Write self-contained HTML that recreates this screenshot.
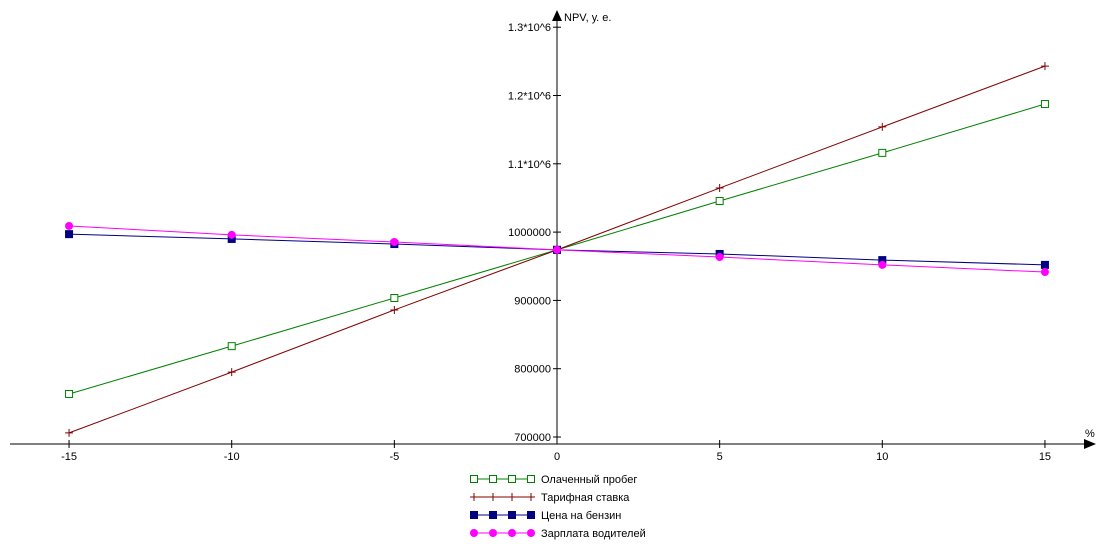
<!DOCTYPE html>
<html><head><meta charset="utf-8"><style>
body{margin:0;background:#fff;}
svg text{font-family:"Liberation Sans","DejaVu Sans",sans-serif;font-size:11px;fill:#000;}
</style></head><body>
<svg id="chart" width="1116" height="548" viewBox="0 0 1116 548"></svg>
<script>
const xCats = [-15, -10, -5, 0, 5, 10, 15];
const xTickLabels = ["-15","-10","-5","5","10","15"];
const xTickValues = [-15,-10,-5,5,10,15];
const yTickValues = [700000,800000,900000,1000000,1100000,1200000,1300000];
const yTickLabels = ["700000","800000","900000","1000000","1.1*10^6","1.2*10^6","1.3*10^6"];
const seriesNames = ["Олаченный пробег","Тарифная ставка","Цена на бензин","Зарплата водителей"];
const paidMileage = [763000, 833000, 903500, 974000, 1045500, 1116000, 1187500];
const tariffRate = [706000, 795000, 886000, 974000, 1064500, 1154000, 1243000];
const fuelPrice = [997000, 990000, 982500, 974000, 968000, 959000, 952000];
const driverSalary = [1009000, 996000, 985500, 974000, 963500, 952000, 941500];

const NS="http://www.w3.org/2000/svg";
const svg=document.getElementById('chart');
function X(v){return 557+v*32.53;}
function Y(v){return 437-(v-700000)*0.000683;}
function mk(tag,attrs,parent){const e=document.createElementNS(NS,tag);for(const k in attrs)e.setAttribute(k,attrs[k]);(parent||svg).appendChild(e);return e;}

// axes
const xa=mk('line',{x1:10,y1:444,x2:1088,y2:444,stroke:'#000','stroke-width':1});


const xar=mk('polygon',{points:'1096,444 1084,439 1084,449',fill:'#000'});


const ya=mk('line',{x1:557,y1:18,x2:557,y2:444,stroke:'#000','stroke-width':1});


const yar=mk('polygon',{points:'557,10 552,21 562,21',fill:'#000'});


const yt=mk('text',{x:564,y:21});yt.textContent='NPV, у. е.';


const xt=mk('text',{x:1085,y:437,'font-size':'9'});xt.textContent='%';



xTickValues.forEach((v,i)=>{
  const l=mk('line',{x1:X(v),y1:440,x2:X(v),y2:448,stroke:'#000'});
  
  
  const t=mk('text',{x:X(v),y:460,'text-anchor':'middle'});t.textContent=xTickLabels[i];
  
  
});
const z=mk('text',{x:557,y:460,'text-anchor':'middle'});z.textContent='0';


yTickValues.forEach((v,i)=>{
  const l=mk('line',{x1:553,y1:Y(v),x2:561,y2:Y(v),stroke:'#000'});
  
  
  const t=mk('text',{x:551,y:Y(v)+4,'text-anchor':'end'});t.textContent=yTickLabels[i];
  
  
});

function marker(type,color,x,y,g){
  let e;
  if(type==='sq-open') e=mk('rect',{x:x-3.5,y:y-3.5,width:7,height:7,fill:'#fff',stroke:color},g);
  else if(type==='sq') e=mk('rect',{x:x-4,y:y-4,width:8,height:8,fill:color},g);
  else if(type==='circle') e=mk('circle',{cx:x,cy:y,r:4,fill:color},g);
  else {e=mk('path',{d:`M${x-4} ${y}H${x+4}M${x} ${y-4}V${y+4}`,stroke:color},g);}
  
  
}
const series=[
 {d:paidMileage,c:'#008000',m:'sq-open',n:'series-paid-mileage'},
 {d:tariffRate,c:'#800000',m:'plus',n:'series-tariff-rate'},
 {d:fuelPrice,c:'#000080',m:'sq',n:'series-fuel-price'},
 {d:driverSalary,c:'#ff00ff',m:'circle',n:'series-driver-salary'}
];
series.forEach((s,si)=>{
  const g=mk('g',{});
  
  
  const pl=mk('polyline',{points:xCats.map((x,i)=>X(x)+','+Y(s.d[i])).join(' '),fill:'none',stroke:s.c,'stroke-width':1},g);
  
  
  xCats.forEach((x,i)=>marker(s.m,s.c,X(x),Y(s.d[i]),g));
  // legend
  const lg=mk('g',{});
  
  
  const ly=479+si*18;
  mk('line',{x1:474,y1:ly,x2:531,y2:ly,stroke:s.c},lg);
  [474,493,512,531].forEach(px=>marker(s.m,s.c,px,ly,lg));
  const t=mk('text',{x:541,y:ly+4},lg);t.textContent=seriesNames[si];
});
</script>
</body></html>
